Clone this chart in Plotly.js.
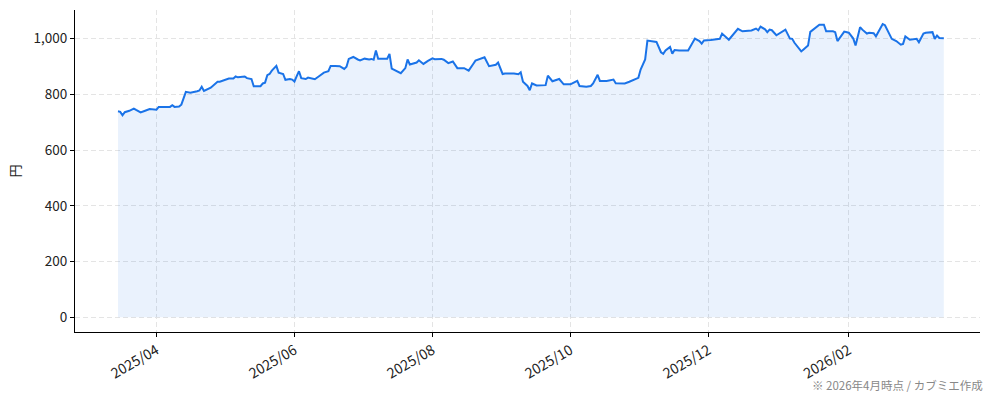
<!DOCTYPE html>
<html lang="ja">
<head>
<meta charset="utf-8">
<script src="https://cdn.plot.ly/plotly-3.0.1.min.js"></script>
<style>
  html, body { margin: 0; padding: 0; background: #fff; }
  #chart { width: 994px; height: 401px; }
</style>
</head>
<body>
<div id="chart"></div>
<script>
// daily close (円)
const dates = [
    '2025-03-15', '2025-03-16', '2025-03-17', '2025-03-18', '2025-03-20', '2025-03-22', '2025-03-23', '2025-03-25', '2025-03-27', '2025-03-29',
    '2025-04-01', '2025-04-02', '2025-04-05', '2025-04-07', '2025-04-08', '2025-04-09', '2025-04-11', '2025-04-12', '2025-04-14', '2025-04-16',
    '2025-04-19', '2025-04-20', '2025-04-21', '2025-04-22', '2025-04-25', '2025-04-26', '2025-04-28', '2025-04-29',
    '2025-05-03', '2025-05-05', '2025-05-06', '2025-05-07', '2025-05-10', '2025-05-11', '2025-05-13', '2025-05-14', '2025-05-17', '2025-05-18',
    '2025-05-19', '2025-05-20', '2025-05-21', '2025-05-22', '2025-05-24', '2025-05-25', '2025-05-27', '2025-05-28', '2025-05-30', '2025-05-31',
    '2025-06-01', '2025-06-02', '2025-06-03', '2025-06-04', '2025-06-06', '2025-06-07', '2025-06-09', '2025-06-10', '2025-06-12', '2025-06-14',
    '2025-06-16', '2025-06-17', '2025-06-19', '2025-06-21', '2025-06-23', '2025-06-24', '2025-06-25', '2025-06-27', '2025-06-29', '2025-06-30',
    '2025-07-02', '2025-07-04', '2025-07-05', '2025-07-06', '2025-07-07', '2025-07-08', '2025-07-12', '2025-07-13', '2025-07-14', '2025-07-16',
    '2025-07-18', '2025-07-20', '2025-07-21', '2025-07-22', '2025-07-25', '2025-07-26', '2025-07-28', '2025-07-30',
    '2025-08-01', '2025-08-02', '2025-08-05', '2025-08-06', '2025-08-08', '2025-08-10', '2025-08-12', '2025-08-15', '2025-08-17', '2025-08-19',
    '2025-08-20', '2025-08-24', '2025-08-26', '2025-08-29', '2025-08-30',
    '2025-09-01', '2025-09-02', '2025-09-06', '2025-09-08', '2025-09-09', '2025-09-10', '2025-09-12', '2025-09-13', '2025-09-14', '2025-09-16',
    '2025-09-20', '2025-09-21', '2025-09-23', '2025-09-24', '2025-09-26', '2025-09-28',
    '2025-10-01', '2025-10-02', '2025-10-04', '2025-10-05', '2025-10-08', '2025-10-10', '2025-10-11', '2025-10-13', '2025-10-14', '2025-10-17',
    '2025-10-20', '2025-10-21', '2025-10-25', '2025-10-27', '2025-10-28', '2025-10-31',
    '2025-11-01', '2025-11-03', '2025-11-04', '2025-11-06', '2025-11-08', '2025-11-10', '2025-11-11', '2025-11-12', '2025-11-14', '2025-11-15',
    '2025-11-16', '2025-11-18', '2025-11-22', '2025-11-25', '2025-11-27', '2025-11-28', '2025-11-29',
    '2025-12-02', '2025-12-05', '2025-12-06', '2025-12-07', '2025-12-10', '2025-12-14', '2025-12-16', '2025-12-20', '2025-12-22', '2025-12-23',
    '2025-12-24', '2025-12-26', '2025-12-27', '2025-12-28', '2025-12-29', '2025-12-31',
    '2026-01-02', '2026-01-04', '2026-01-06', '2026-01-07', '2026-01-08', '2026-01-11', '2026-01-12', '2026-01-14', '2026-01-15', '2026-01-17',
    '2026-01-19', '2026-01-21', '2026-01-22', '2026-01-25', '2026-01-26', '2026-01-27', '2026-01-29', '2026-01-30',
    '2026-02-01', '2026-02-03', '2026-02-04', '2026-02-06', '2026-02-07', '2026-02-09', '2026-02-10', '2026-02-12', '2026-02-13', '2026-02-15',
    '2026-02-16', '2026-02-17', '2026-02-20', '2026-02-22', '2026-02-24', '2026-02-25', '2026-02-26', '2026-02-28',
    '2026-03-03', '2026-03-04', '2026-03-06', '2026-03-07', '2026-03-10', '2026-03-11', '2026-03-12', '2026-03-13', '2026-03-15',
];

const closes = [
    739, 737, 725, 736, 741, 749, 744, 735, 741, 747,
    745, 755, 755, 755, 761, 755, 756, 763, 809, 806,
    811, 814, 827, 812, 824, 831, 845, 845,
    857, 857, 864, 861, 864, 858, 855, 829, 829, 839,
    842, 869, 873, 885, 902, 878, 873, 852, 855, 853,
    846, 865, 883, 858, 855, 860, 857, 854, 866, 878,
    883, 902, 902, 901, 891, 899, 927, 934, 925, 922,
    928, 925, 927, 924, 957, 928, 928, 945, 892, 885,
    876, 894, 925, 907, 914, 922, 909, 920,
    929, 926, 927, 924, 912, 918, 894, 894, 885, 909,
    921, 933, 901, 906, 914,
    873, 875, 875, 872, 879, 845, 830, 815, 839, 832,
    833, 867, 847, 849, 855, 836,
    836, 840, 848, 830, 827, 830, 839, 870, 848, 848,
    853, 840, 839, 845, 849, 859,
    889, 925, 993, 991, 988, 951, 945, 957, 970, 946,
    959, 957, 957, 1000, 991, 982, 993,
    995, 1000, 999, 1018, 996, 1035, 1026, 1029, 1036, 1030,
    1043, 1033, 1023, 1032, 1030, 1012,
    1022, 1032, 1000, 999, 985, 954, 961, 975, 1024, 1038,
    1050, 1050, 1026, 1026, 1023, 991, 1012, 1025,
    1021, 1000, 975, 1041, 1032, 1018, 1021, 1019, 1008, 1036,
    1052, 1048, 999, 991, 978, 981, 1008, 996,
    999, 987, 1018, 1021, 1023, 999, 1011, 1002, 1001,
];

const yTicks = [0, 200, 400, 600, 800, 1000];
const yLabel = '円';
const footnote = '※ 2026年4月時点 / カブミエ作成';

(function () {
    const font = '"Noto Sans CJK JP", "Noto Sans", sans-serif';
    const grid = '#e4e4e4';

    const trace = {
        x: dates,
        y: closes,
        type: 'scatter',
        mode: 'lines',
        fill: 'tozeroy',
        fillcolor: 'rgba(26, 115, 232, 0.09)',
        line: {color: '#1a73e8', width: 2},
        hoverinfo: 'x+y',
    };

    const layout = {
        width: 994,
        height: 401,
        margin: {l: 75, r: 14, t: 10, b: 69},
        paper_bgcolor: '#ffffff',
        plot_bgcolor: '#ffffff',
        font: {family: font, size: 13, color: '#222'},
        showlegend: false,
        xaxis: {
            type: 'date',
            range: ['2025-02-24', '2026-03-31'],
            tick0: '2025-04-01',
            dtick: 'M2',
            tickformat: '%Y/%m',
            tickangle: -30,
            ticks: 'outside',
            ticklen: 4,
            tickcolor: '#000',
            showline: true,
            linecolor: '#000',
            linewidth: 1,
            showgrid: true,
            gridcolor: grid,
            griddash: '5px,3px',
            zeroline: false,
            tickfont: {family: font, size: 14, color: '#222'},
        },
        yaxis: {
            range: [-52.5, 1102.5],
            tickvals: yTicks,
            tickformat: ',d',
            ticks: 'outside',
            ticklen: 4,
            tickcolor: '#000',
            showline: true,
            linecolor: '#000',
            linewidth: 1,
            showgrid: true,
            gridcolor: grid,
            griddash: '5px,3px',
            zeroline: false,
            tickfont: {family: font, size: 13.5, color: '#222'},
            title: {text: yLabel, font: {family: font, size: 13, color: '#222'}, standoff: 10},
        },
        annotations: [{
            text: footnote,
            xref: 'paper',
            yref: 'paper',
            x: 1.006,
            y: -0.165,
            xanchor: 'right',
            yanchor: 'middle',
            showarrow: false,
            font: {family: font, size: 11.5, color: '#888'},
        }],
    };

    Plotly.newPlot('chart', [trace], layout, {displayModeBar: false, staticPlot: true});
})();
</script>
</body>
</html>
